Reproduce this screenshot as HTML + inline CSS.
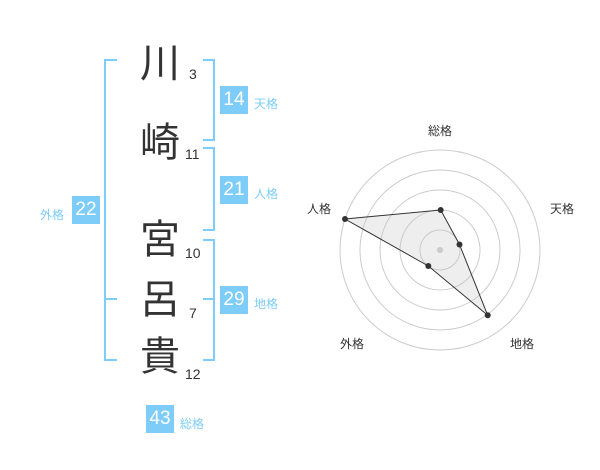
<!DOCTYPE html>
<html><head><meta charset="utf-8"><style>
body{margin:0;width:600px;height:470px;background:#fff;position:relative;overflow:hidden;font-family:"Liberation Sans","Noto Sans CJK JP",sans-serif}
.k{position:absolute;font-size:40px;color:#333;width:50px;text-align:center;line-height:40px}
.n{position:absolute;font-size:14px;color:#333}
.b{position:absolute;width:28px;height:28px;background:#7dcdf8;color:#fff;font-size:19px;line-height:28px;text-align:center}
.l{position:absolute;font-size:12px;color:#7dcdf8}
.r{position:absolute;font-size:12px;color:#333}
</style></head><body>
<svg width="600" height="470" style="position:absolute;left:0;top:0">
<g fill="none" stroke="#7dcdf8" stroke-width="2">
<path d="M117 60H105V360H117M105 299H117"/>
<path d="M203 60H214V140H203"/>
<path d="M203 148H214V230H203"/>
<path d="M203 240H214V360H203M214 299H203"/>
</g>
<g fill="none" stroke="#ccc" stroke-width="1">
<circle cx="440" cy="250" r="20"/><circle cx="440" cy="250" r="40"/><circle cx="440" cy="250" r="60"/><circle cx="440" cy="250" r="80"/><circle cx="440" cy="250" r="100"/>
</g>
<circle cx="440" cy="250" r="3" fill="#ccc"/>
<polygon points="440.7,210 459.5,244.5 487.7,315.3 428.3,266 345,219" fill="rgba(200,200,200,0.3)" stroke="#333" stroke-width="1"/>
<g fill="#333"><circle cx="440.7" cy="210" r="3"/><circle cx="459.5" cy="244.5" r="3"/><circle cx="487.7" cy="315.3" r="3"/><circle cx="428.3" cy="266" r="3"/><circle cx="345" cy="219" r="3"/></g>
</svg>
<div class="k" style="left:135px;top:44px">川</div><div class="n" style="left:189px;top:66px">3</div>
<div class="k" style="left:135px;top:123px">崎</div><div class="n" style="left:185px;top:146px">11</div>
<div class="k" style="left:135px;top:220px">宮</div><div class="n" style="left:185px;top:245px">10</div>
<div class="k" style="left:135px;top:280px">呂</div><div class="n" style="left:189px;top:305px">7</div>
<div class="k" style="left:135px;top:337px">貴</div><div class="n" style="left:185px;top:366px">12</div>
<div class="b" style="left:220px;top:86px">14</div><div class="l" style="left:254px;top:95px">天格</div>
<div class="b" style="left:220px;top:176px">21</div><div class="l" style="left:254px;top:185px">人格</div>
<div class="b" style="left:220px;top:286px">29</div><div class="l" style="left:254px;top:295px">地格</div>
<div class="b" style="left:72px;top:196px">22</div><div class="l" style="left:40px;top:206px">外格</div>
<div class="b" style="left:146px;top:405px">43</div><div class="l" style="left:180px;top:415px">総格</div>
<div class="r" style="left:428px;top:122px">総格</div>
<div class="r" style="left:550px;top:200px">天格</div>
<div class="r" style="left:510px;top:335px">地格</div>
<div class="r" style="left:340px;top:335px">外格</div>
<div class="r" style="left:307px;top:200px">人格</div>
</body></html>
